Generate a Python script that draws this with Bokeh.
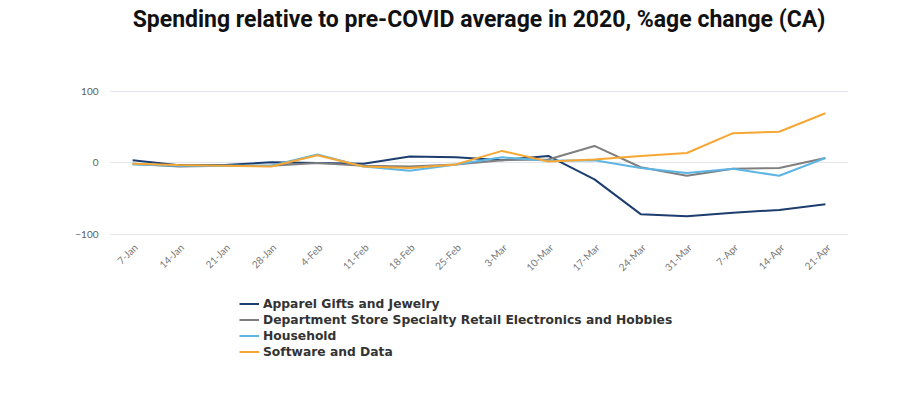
import numpy as np
from bokeh.plotting import figure
from bokeh.models import FactorRange, Range1d, Legend, LegendItem, FixedTicker, Title
from bokeh.core.properties import value
from bokeh.embed import file_html
from bokeh.resources import INLINE

weeks = ["7-Jan", "14-Jan", "21-Jan", "28-Jan", "4-Feb", "11-Feb", "18-Feb", "25-Feb",
         "3-Mar", "10-Mar", "17-Mar", "24-Mar", "31-Mar", "7-Apr", "14-Apr", "21-Apr"]
apparel = [4, -3, -3, 1, 0, -1, 9, 8, 4, 10, -23, -72, -75, -70, -66, -58]
department = [-1, -5, -4, -4, 0, -4, -5, -2, 4, 5, 24, -6, -18, -8, -7, 7]
household = [-2, -4, -4, -4, 12, -5, -11, -2, 8, 3, 4, -7, -14, -8, -18, 7]
software = [-1, -3, -4, -5, 11, -5, -7, -2, 17, 2, 5, 10, 14, 42, 44, 70]

series_names = ["Apparel Gifts and Jewelry",
                "Department Store Specialty Retail Electronics and Hobbies",
                "Household", "Software and Data"]
series_vals = [apparel, department, household, software]
colors = ["#1c3d6e", "#7f7f7f", "#5db5e3", "#f6a733"]
y_ticks = [-100, 0, 100]
y_min = -100
title_text = "Spending relative to pre-COVID average in 2020, %age change (CA)"

p = figure(width=898, height=380, x_range=FactorRange(*weeks, range_padding=0),
           y_range=Range1d(-292, 102), output_backend="svg", toolbar_location=None,
           min_border_left=109, min_border_right=50, min_border_top=90,
           min_border_bottom=10)
p.outline_line_color = None
p.title.visible = False
p.title.standoff = 0

# empty spacer panel right above the plot area, then the real title above it
p.add_layout(Title(text=" ", text_font_size="1px", standoff=54), "above")
p.add_layout(Title(text=title_text, text_font="Roboto", text_font_style="bold",
                   text_font_size="23px", text_color="#111111", align="center",
                   standoff=2), "above")

renderers = []
for name, vals, c in zip(series_names, series_vals, colors):
    r = p.line(weeks, vals, line_color=c, line_width=2)
    renderers.append((name, r))

# category labels under the -100 line, rotated 45 degrees
p.text(x=weeks, y=y_min - 2, text=weeks, angle=np.pi / 4, angle_units="rad",
       text_align="right", text_baseline="middle", x_offset=3, y_offset=10,
       text_font_size="10px", text_color="#777777", text_font=value("Lato"))

p.xaxis.visible = False
p.xgrid.grid_line_color = None
p.ygrid.grid_line_color = "#e4e6ee"
p.ygrid.grid_line_width = 1
p.yaxis.ticker = FixedTicker(ticks=y_ticks)
ax = p.yaxis[0]
ax.axis_line_color = None
ax.major_tick_line_color = None
ax.minor_tick_line_color = None
ax.major_label_text_color = "#606060"
ax.major_label_text_font = "Lato"
ax.major_label_text_font_size = "10px"

legend = Legend(items=[LegendItem(label=n, renderers=[r]) for n, r in renderers],
                location=(130, 11), orientation="vertical",
                label_text_font="DejaVu Sans", label_text_font_style="bold",
                label_text_font_size="12.3px", label_text_color="#333333",
                glyph_width=20, glyph_height=15, label_height=15, spacing=1,
                label_standoff=4, padding=4, border_line_color=None,
                background_fill_alpha=0)
p.add_layout(legend, "center")

open("out.html", "w").write(file_html(p, INLINE))
